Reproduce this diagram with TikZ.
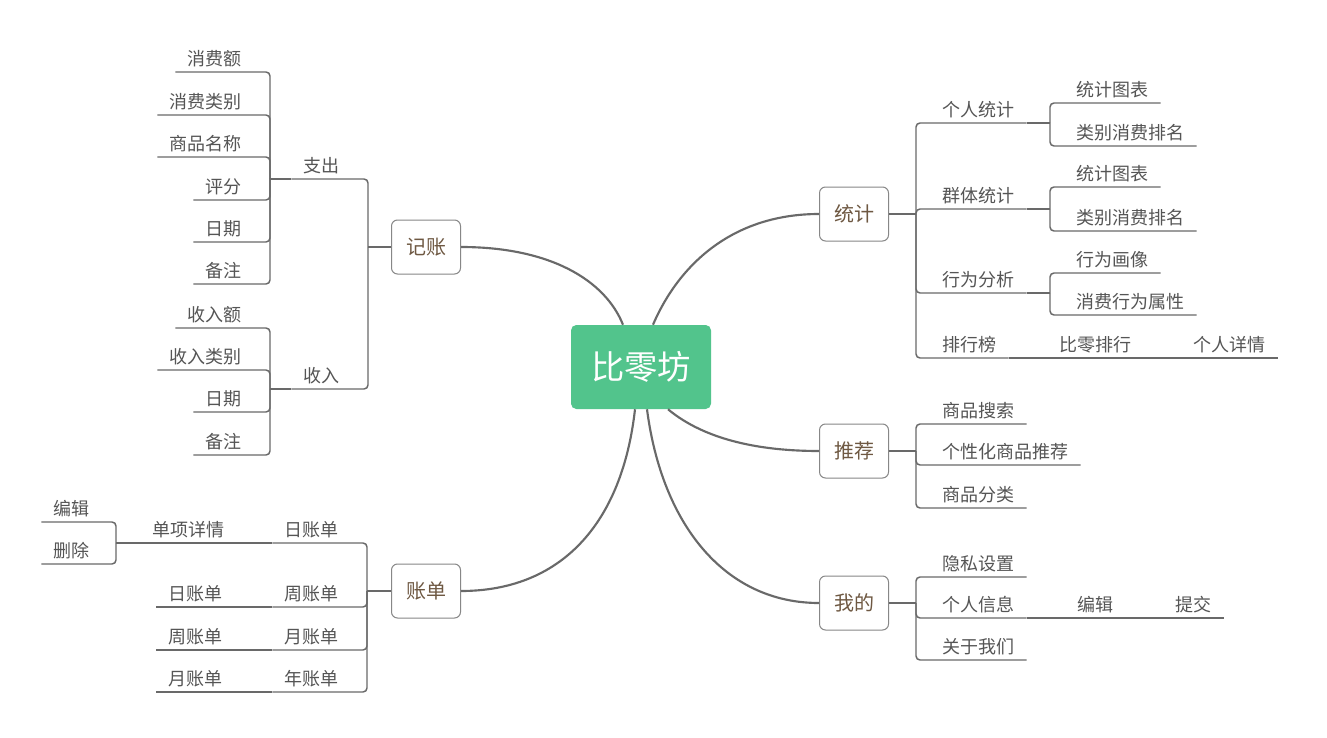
\documentclass[tikz,border=0pt]{standalone}
\usepackage{fontspec}
\setmainfont{Noto Sans CJK SC}
\usepackage{xcolor}
\definecolor{primary}{RGB}{82, 196, 140}
\definecolor{linegray}{RGB}{105, 105, 105}
\definecolor{boxgray}{RGB}{135, 135, 135}
\definecolor{textgray}{RGB}{85, 85, 85}
\definecolor{topicbrown}{RGB}{110, 88, 66}
\usepackage{tikz}
\usetikzlibrary{positioning, calc}

\tikzset{
	root/.style={fill=primary, rounded corners=4pt, minimum width=105pt, minimum height=63pt,
		font=\fontsize{25}{30}\selectfont, text=white},
	topic/.style={draw=boxgray, fill=white, line width=0.75pt, rounded corners=4.5pt,
		minimum width=51.75pt, minimum height=40.5pt, font=\fontsize{15}{18}\selectfont, text=topicbrown},
	leaf/.style={font=\fontsize{13.5}{16}\selectfont, text=textgray, inner xsep=9pt, inner ysep=4.8pt, text depth=0pt},
	leafL/.style={leaf, anchor=south east},
	leafR/.style={leaf, anchor=south west},
	trunk/.style={draw=linegray, line width=1.6pt},
	twig/.style={draw=linegray, line width=1.1pt, rounded corners=3pt},
}

\begin{document}
\begin{tikzpicture}[x=0.75pt, y=-0.75pt]
		\fill[white] (0,0) rectangle (1327,738);
		\useasboundingbox (0,0) rectangle (1327,738);

		\node[root] (root) at (641,367) {比零坊};

		\node[topic] (jz) at (426,247) {记账};
		\node[topic] (zd) at (426,591) {账单};
		\node[topic] (tj) at (854,214) {统计};
		\node[topic] (tuij) at (854,451) {推荐};
		\node[topic] (wd) at (854,603) {我的};

		\draw[trunk] ($(root.north)+(-18,0)$) .. controls (605,280) and (550,247) .. (jz.east);
		\draw[trunk] ($(root.north)+(12,0)$) .. controls (680,262) and (735,214) .. (tj.west);
		\draw[trunk] ($(root.south)+(-6,0)$) .. controls (622,525) and (560,591) .. (zd.east);
		\draw[trunk] ($(root.south)+(6,0)$) .. controls (662,525) and (725,603) .. (wd.west);
		\draw[trunk] ($(root.south)+(27,0)$) .. controls (705,440) and (760,451) .. (tuij.west);

		% 记账
		\coordinate (jzs) at (368,247);
		\draw[twig] (jz.west) -- (jzs);
		\node[leafL] (zc) at (352,179) {支出};
		\node[leafL] (sr) at (352,389) {收入};
		\foreach \n in {zc, sr} \draw[twig] (jzs) |- (\n.south west);

		\coordinate (zcs) at (270,179);
		\draw[twig] (zc.south west) -- (zcs);
		\node[leafL] (xfe) at (254,72) {消费额};
		\node[leafL] (xflb) at (254,115) {消费类别};
		\node[leafL] (spmc) at (254,157) {商品名称};
		\node[leafL] (pf) at (254,200) {评分};
		\node[leafL] (rq1) at (254,242) {日期};
		\node[leafL] (bz1) at (254,284) {备注};
		\foreach \n in {xfe, xflb, spmc, pf, rq1, bz1} \draw[twig] (zcs) |- (\n.south west);

		\coordinate (srs) at (270,389);
		\draw[twig] (sr.south west) -- (srs);
		\node[leafL] (sre) at (254,328) {收入额};
		\node[leafL] (srlb) at (254,370) {收入类别};
		\node[leafL] (rq2) at (254,412) {日期};
		\node[leafL] (bz2) at (254,455) {备注};
		\foreach \n in {sre, srlb, rq2, bz2} \draw[twig] (srs) |- (\n.south west);

		% 账单
		\coordinate (zds) at (367,591);
		\draw[twig] (zd.west) -- (zds);
		\node[leafL] (rzd) at (351,543) {日账单};
		\node[leafL] (zzd) at (351,607) {周账单};
		\node[leafL] (yzd) at (351,650) {月账单};
		\node[leafL] (nzd) at (351,692) {年账单};
		\foreach \n in {rzd, zzd, yzd, nzd} \draw[twig] (zds) |- (\n.south west);

		\node[leafL] (dxxq) at (237,543) {单项详情};
		\node[leafL] (rzd2) at (235,607) {日账单};
		\node[leafL] (zzd2) at (235,650) {周账单};
		\node[leafL] (yzd2) at (235,692) {月账单};
		\draw[twig] (rzd.south west) -- (dxxq.south west);
		\draw[twig] (zzd.south west) -- (rzd2.south west);
		\draw[twig] (yzd.south west) -- (zzd2.south west);
		\draw[twig] (nzd.south west) -- (yzd2.south west);

		\coordinate (dxs) at (116,543);
		\draw[twig] (dxxq.south west) -- (dxs);
		\node[leafL] (bj1) at (102,522) {编辑};
		\node[leafL] (sc1) at (102,564) {删除};
		\foreach \n in {bj1, sc1} \draw[twig] (dxs) |- (\n.south west);

		% 统计
		\coordinate (tjs) at (916,214);
		\draw[twig] (tj.east) -- (tjs);
		\node[leafR] (grtj) at (930,123) {个人统计};
		\node[leafR] (qttj) at (930,209) {群体统计};
		\node[leafR] (xwfx) at (930,293) {行为分析};
		\node[leafR] (phb) at (930,358) {排行榜};
		\foreach \n in {grtj, qttj, xwfx, phb} \draw[twig] (tjs) |- (\n.south east);

		\coordinate (grs) at (1050,123);
		\draw[twig] (grtj.south east) -- (grs);
		\node[leafR] (tb1) at (1064,103) {统计图表};
		\node[leafR] (pm1) at (1064,146) {类别消费排名};
		\foreach \n in {tb1, pm1} \draw[twig] (grs) |- (\n.south east);

		\coordinate (qts) at (1050,209);
		\draw[twig] (qttj.south east) -- (qts);
		\node[leafR] (tb2) at (1064,187) {统计图表};
		\node[leafR] (pm2) at (1064,231) {类别消费排名};
		\foreach \n in {tb2, pm2} \draw[twig] (qts) |- (\n.south east);

		\coordinate (xws) at (1050,293);
		\draw[twig] (xwfx.south east) -- (xws);
		\node[leafR] (xwhx) at (1064,273) {行为画像};
		\node[leafR] (xwsx) at (1064,315) {消费行为属性};
		\foreach \n in {xwhx, xwsx} \draw[twig] (xws) |- (\n.south east);

		\node[leafR] (blph) at (1047,358) {比零排行};
		\node[leafR] (grxq) at (1181,358) {个人详情};
		\draw[twig] (phb.south east) -- (blph.south east);
		\draw[twig] (blph.south east) -- (grxq.south east);

		% 推荐
		\coordinate (tuijs) at (916,451);
		\draw[twig] (tuij.east) -- (tuijs);
		\node[leafR] (spss) at (930,424) {商品搜索};
		\node[leafR] (gxh) at (930,465) {个性化商品推荐};
		\node[leafR] (spfl) at (930,508) {商品分类};
		\foreach \n in {spss, gxh, spfl} \draw[twig] (tuijs) |- (\n.south east);

		% 我的
		\coordinate (wds) at (916,603);
		\draw[twig] (wd.east) -- (wds);
		\node[leafR] (yssz) at (930,577) {隐私设置};
		\node[leafR] (grxx) at (930,618) {个人信息};
		\node[leafR] (gywm) at (930,660) {关于我们};
		\foreach \n in {yssz, grxx, gywm} \draw[twig] (wds) |- (\n.south east);

		\node[leafR] (bj2) at (1065,618) {编辑};
		\node[leafR] (tijiao) at (1163,618) {提交};
		\draw[twig] (grxx.south east) -- (bj2.south east);
		\draw[twig] (bj2.south east) -- (tijiao.south east);
	\end{tikzpicture}
\end{document}
